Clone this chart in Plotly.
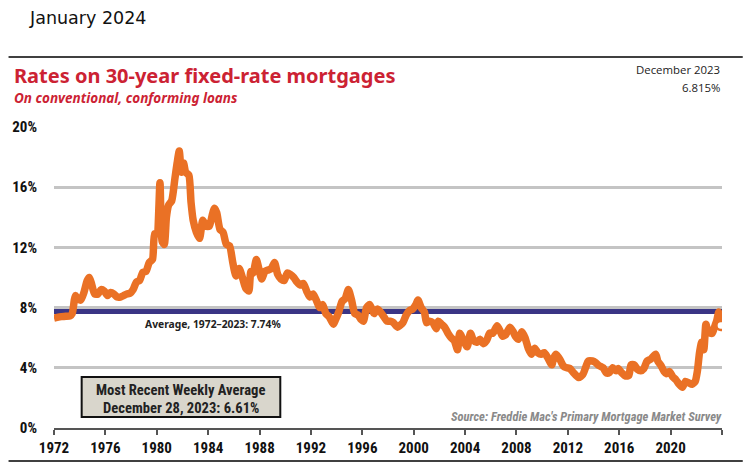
import plotly.graph_objects as go

# ---------------- data ----------------
dates = [
    "1972-01", "1972-04", "1972-08", "1972-12", "1973-04", "1973-06", "1973-08", "1973-09", "1973-11",
    "1974-02", "1974-05", "1974-08", "1974-10", "1974-12", "1975-03", "1975-06", "1975-09", "1975-12",
    "1976-03", "1976-06", "1976-09", "1976-12", "1977-03", "1977-06", "1977-09", "1977-12",
    "1978-03", "1978-06", "1978-09", "1978-12", "1979-03", "1979-06", "1979-09", "1979-11",
    "1980-01", "1980-04", "1980-06", "1980-08", "1980-10", "1980-12", "1981-03", "1981-06", "1981-08",
    "1981-10", "1981-12", "1982-02", "1982-04", "1982-07", "1982-09", "1982-11", "1983-02", "1983-05",
    "1983-08", "1983-11", "1984-02", "1984-05", "1984-07", "1984-09", "1984-12", "1985-03", "1985-06",
    "1985-09", "1985-12", "1986-03", "1986-06", "1986-09", "1986-12", "1987-03", "1987-05", "1987-07",
    "1987-10", "1987-12", "1988-03", "1988-06", "1988-09", "1988-12", "1989-03", "1989-06", "1989-09",
    "1989-12", "1990-03", "1990-06", "1990-09", "1990-12", "1991-03", "1991-06", "1991-09", "1991-12",
    "1992-03", "1992-06", "1992-09", "1992-12", "1993-03", "1993-06", "1993-10", "1993-12", "1994-03",
    "1994-06", "1994-09", "1994-12", "1995-03", "1995-06", "1995-09", "1995-12", "1996-02", "1996-05",
    "1996-08", "1996-12", "1997-03", "1997-06", "1997-09", "1997-12", "1998-03", "1998-06", "1998-10",
    "1998-12", "1999-03", "1999-06", "1999-09", "1999-12", "2000-03", "2000-05", "2000-08", "2000-11",
    "2001-01", "2001-04", "2001-07", "2001-10", "2001-12", "2002-03", "2002-06", "2002-09", "2002-12",
    "2003-03", "2003-06", "2003-08", "2003-11", "2004-03", "2004-06", "2004-09", "2004-12", "2005-03",
    "2005-06", "2005-09", "2005-12", "2006-03", "2006-07", "2006-10", "2006-12", "2007-03", "2007-07",
    "2007-10", "2007-12", "2008-03", "2008-06", "2008-09", "2008-12", "2009-03", "2009-06", "2009-09",
    "2009-12", "2010-03", "2010-06", "2010-10", "2010-12", "2011-02", "2011-06", "2011-09", "2011-12",
    "2012-03", "2012-06", "2012-11", "2013-03", "2013-06", "2013-08", "2013-12", "2014-03", "2014-06",
    "2014-10", "2015-01", "2015-04", "2015-07", "2015-10", "2015-12", "2016-03", "2016-07", "2016-10",
    "2016-12", "2017-03", "2017-06", "2017-09", "2017-12", "2018-03", "2018-06", "2018-11", "2019-01",
    "2019-04", "2019-07", "2019-09", "2019-12", "2020-03", "2020-06", "2020-09", "2020-12", "2021-03",
    "2021-06", "2021-09", "2021-12", "2022-02", "2022-04", "2022-06", "2022-08", "2022-10", "2022-12",
    "2023-02", "2023-04", "2023-06", "2023-08", "2023-10", "2023-11", "2023-12",
]
rates = [
    7.30, 7.35, 7.40, 7.42, 7.45, 7.60, 8.50, 8.80, 8.60,
    8.50, 9.00, 9.80, 10.0, 9.60, 8.90, 8.90, 9.20, 9.10,
    8.80, 9.00, 8.90, 8.70, 8.70, 8.80, 8.90, 8.95,
    9.20, 9.70, 9.80, 10.35, 10.40, 11.0, 11.2, 12.9,
    12.9, 16.3, 12.4, 12.2, 14.0, 14.8, 15.1, 16.6, 17.6,
    18.4, 17.0, 17.6, 17.0, 16.8, 15.0, 13.8, 13.0, 12.6,
    13.8, 13.4, 13.4, 14.2, 14.6, 14.3, 13.2, 13.0, 12.2,
    12.1, 11.0, 10.1, 10.6, 10.0, 9.30, 9.10, 10.4, 10.3,
    11.2, 10.7, 9.90, 10.4, 10.5, 10.6, 11.0, 10.2, 9.90,
    9.80, 10.3, 10.2, 10.0, 9.70, 9.50, 9.60, 9.10, 8.70,
    8.90, 8.50, 8.00, 8.20, 7.60, 7.40, 6.90, 7.20, 7.70,
    8.40, 8.60, 9.20, 8.50, 7.60, 7.50, 7.20, 7.10, 8.00,
    8.20, 7.60, 7.90, 7.70, 7.40, 7.10, 7.10, 7.00, 6.70,
    6.80, 7.00, 7.50, 7.80, 7.90, 8.20, 8.50, 8.00, 7.70,
    7.00, 7.10, 7.00, 6.60, 7.10, 6.90, 6.70, 6.30, 6.00,
    5.80, 5.20, 6.30, 5.90, 5.40, 6.30, 5.80, 5.70, 5.90,
    5.60, 5.80, 6.30, 6.30, 6.80, 6.40, 6.10, 6.20, 6.70,
    6.40, 6.10, 5.90, 6.40, 6.00, 5.30, 4.90, 5.30, 5.00,
    4.90, 5.00, 4.70, 4.20, 4.70, 4.90, 4.50, 4.10, 4.00,
    3.95, 3.70, 3.35, 3.55, 4.10, 4.45, 4.45, 4.35, 4.15,
    4.00, 3.65, 3.70, 4.00, 3.80, 3.95, 3.70, 3.45, 3.50,
    4.20, 4.20, 3.90, 3.80, 3.95, 4.45, 4.55, 4.90, 4.45,
    4.15, 3.75, 3.60, 3.75, 3.40, 3.20, 2.90, 2.70, 3.10,
    3.00, 2.90, 3.10, 3.80, 5.00, 5.70, 5.20, 6.90, 6.40,
    6.30, 6.30, 6.70, 7.10, 7.70, 7.40, 6.81,
]

y_tickvals = [0, 4, 8, 12, 16, 20]
y_ticktext = ["0%", "4%", "8%", "12%", "16%", "20%"]
x_tickvals = ["1972-01-01", "1976-01-01", "1980-01-01", "1984-01-01", "1988-01-01", "1992-01-01",
              "1996-01-01", "2000-01-01", "2004-01-01", "2008-01-01", "2012-01-01", "2016-01-01",
              "2020-01-01", "2024-01-01"]
x_ticktext = ["1972", "1976", "1980", "1984", "1988", "1992", "1996", "2000", "2004", "2008",
              "2012", "2016", "2020", ""]

average_rate = 7.74
latest_label = "December 28, 2023: 6.61%"

# ---------------- layout helpers ----------------
W, H = 743, 470
L, R, T, B = 46, 21, 127, 42
PW, PH = W - L - R, H - T - B


def px(x):
    return (x - L) / PW


def py(y):
    return (H - B - y) / PH


ORANGE = "#ea7125"
RED = "#cc2233"
NAVY = "#3a3585"
NARROW = "Liberation Sans Narrow, Arial Narrow, Roboto Condensed, sans-serif"

fig = go.Figure()

fig.add_trace(go.Scatter(
    x=dates, y=rates, mode="lines",
    line=dict(color=ORANGE, width=7.5, shape="spline", smoothing=0.6),
    hoverinfo="skip", showlegend=False,
))
fig.add_trace(go.Scatter(
    x=[dates[-1]], y=[rates[-1]], mode="markers",
    marker=dict(size=9, color="white", line=dict(color=ORANGE, width=2.5)),
    hoverinfo="skip", showlegend=False,
))

shapes = [
    dict(type="line", xref="paper", yref="y", x0=0, x1=1, y0=average_rate, y1=average_rate,
         line=dict(color=NAVY, width=5), layer="below"),
    dict(type="line", xref="paper", yref="paper", x0=px(0), x1=px(W), y0=py(57), y1=py(57),
         line=dict(color="black", width=1.5)),
    dict(type="line", xref="paper", yref="paper", x0=px(0), x1=px(W), y0=py(461), y1=py(461),
         line=dict(color="black", width=1.5)),
    dict(type="rect", xref="paper", yref="paper", x0=px(74), x1=px(275), y0=py(417), y1=py(377),
         fillcolor="#d9d6cc", line=dict(color="#111", width=2)),
]

annotations = [
    dict(text="January 2024", x=px(19), y=py(18), xanchor="left", yanchor="middle",
         font=dict(family="DejaVu Sans", size=17.5, color="#111")),
    dict(text="<b>Rates on 30-year fixed-rate mortgages</b>", x=px(3), y=py(76), xanchor="left",
         yanchor="middle", font=dict(family="Noto Sans", size=20, color=RED)),
    dict(text="<b><i>On conventional, conforming loans</i></b>", x=px(3), y=py(98), xanchor="left",
         yanchor="middle", font=dict(family="Noto Sans", size=13.5, color=RED)),
    dict(text="December 2023", x=px(722), y=py(69), xanchor="right", yanchor="middle",
         font=dict(family="Open Sans", size=11.4, color="#222")),
    dict(text="6.815%", x=px(722), y=py(87), xanchor="right", yanchor="middle",
         font=dict(family="Open Sans", size=11.4, color="#222")),
    dict(text="<b>Average, 1972–2023: 7.74%</b>", x=px(207), y=py(324), xanchor="center",
         yanchor="middle", font=dict(family="Noto Sans", size=10.3, color="#222")),
    dict(text="<b>Most Recent Weekly Average</b>", x=px(174.5), y=py(390), xanchor="center",
         yanchor="middle", font=dict(family=NARROW, size=14.6, color="#222")),
    dict(text="<b>" + latest_label + "</b>", x=px(174.5), y=py(408), xanchor="center",
         yanchor="middle", font=dict(family=NARROW, size=14.6, color="#222")),
    dict(text="<b><i>Source: Freddie Mac's Primary Mortgage Market Survey</i></b>", x=px(724),
         y=py(416), xanchor="right", yanchor="middle",
         font=dict(family=NARROW, size=12.5, color="#8a8a8a")),
]
for a in annotations:
    a.update(xref="paper", yref="paper", showarrow=False)

fig.update_layout(
    width=W, height=H,
    margin=dict(l=L, r=R, t=T, b=B, pad=0),
    paper_bgcolor="white", plot_bgcolor="white",
    shapes=shapes, annotations=annotations,
    showlegend=False,
    xaxis=dict(
        type="date", range=["1972-01-01", "2024-01-01"],
        tickmode="array", tickvals=x_tickvals, ticktext=x_ticktext,
        showgrid=False, zeroline=False,
        showline=True, linecolor="#555", linewidth=1.5,
        ticks="outside", ticklen=5, tickwidth=1.5, tickcolor="#555",
        tickfont=dict(family=NARROW, size=15, color="#111", weight="bold"),
    ),
    yaxis=dict(
        range=[0, 20], tickmode="array", tickvals=y_tickvals, ticktext=y_ticktext,
        showgrid=True, gridcolor="#c4c4c4", gridwidth=2.5, zeroline=False,
        showline=False, ticks="",
        ticklabelstandoff=16,
        tickfont=dict(family=NARROW, size=15, color="#111", weight="bold"),
    ),
)

fig.write_html("out.html", config={"displayModeBar": False},
               post_script="document.body.style.margin='0';")
